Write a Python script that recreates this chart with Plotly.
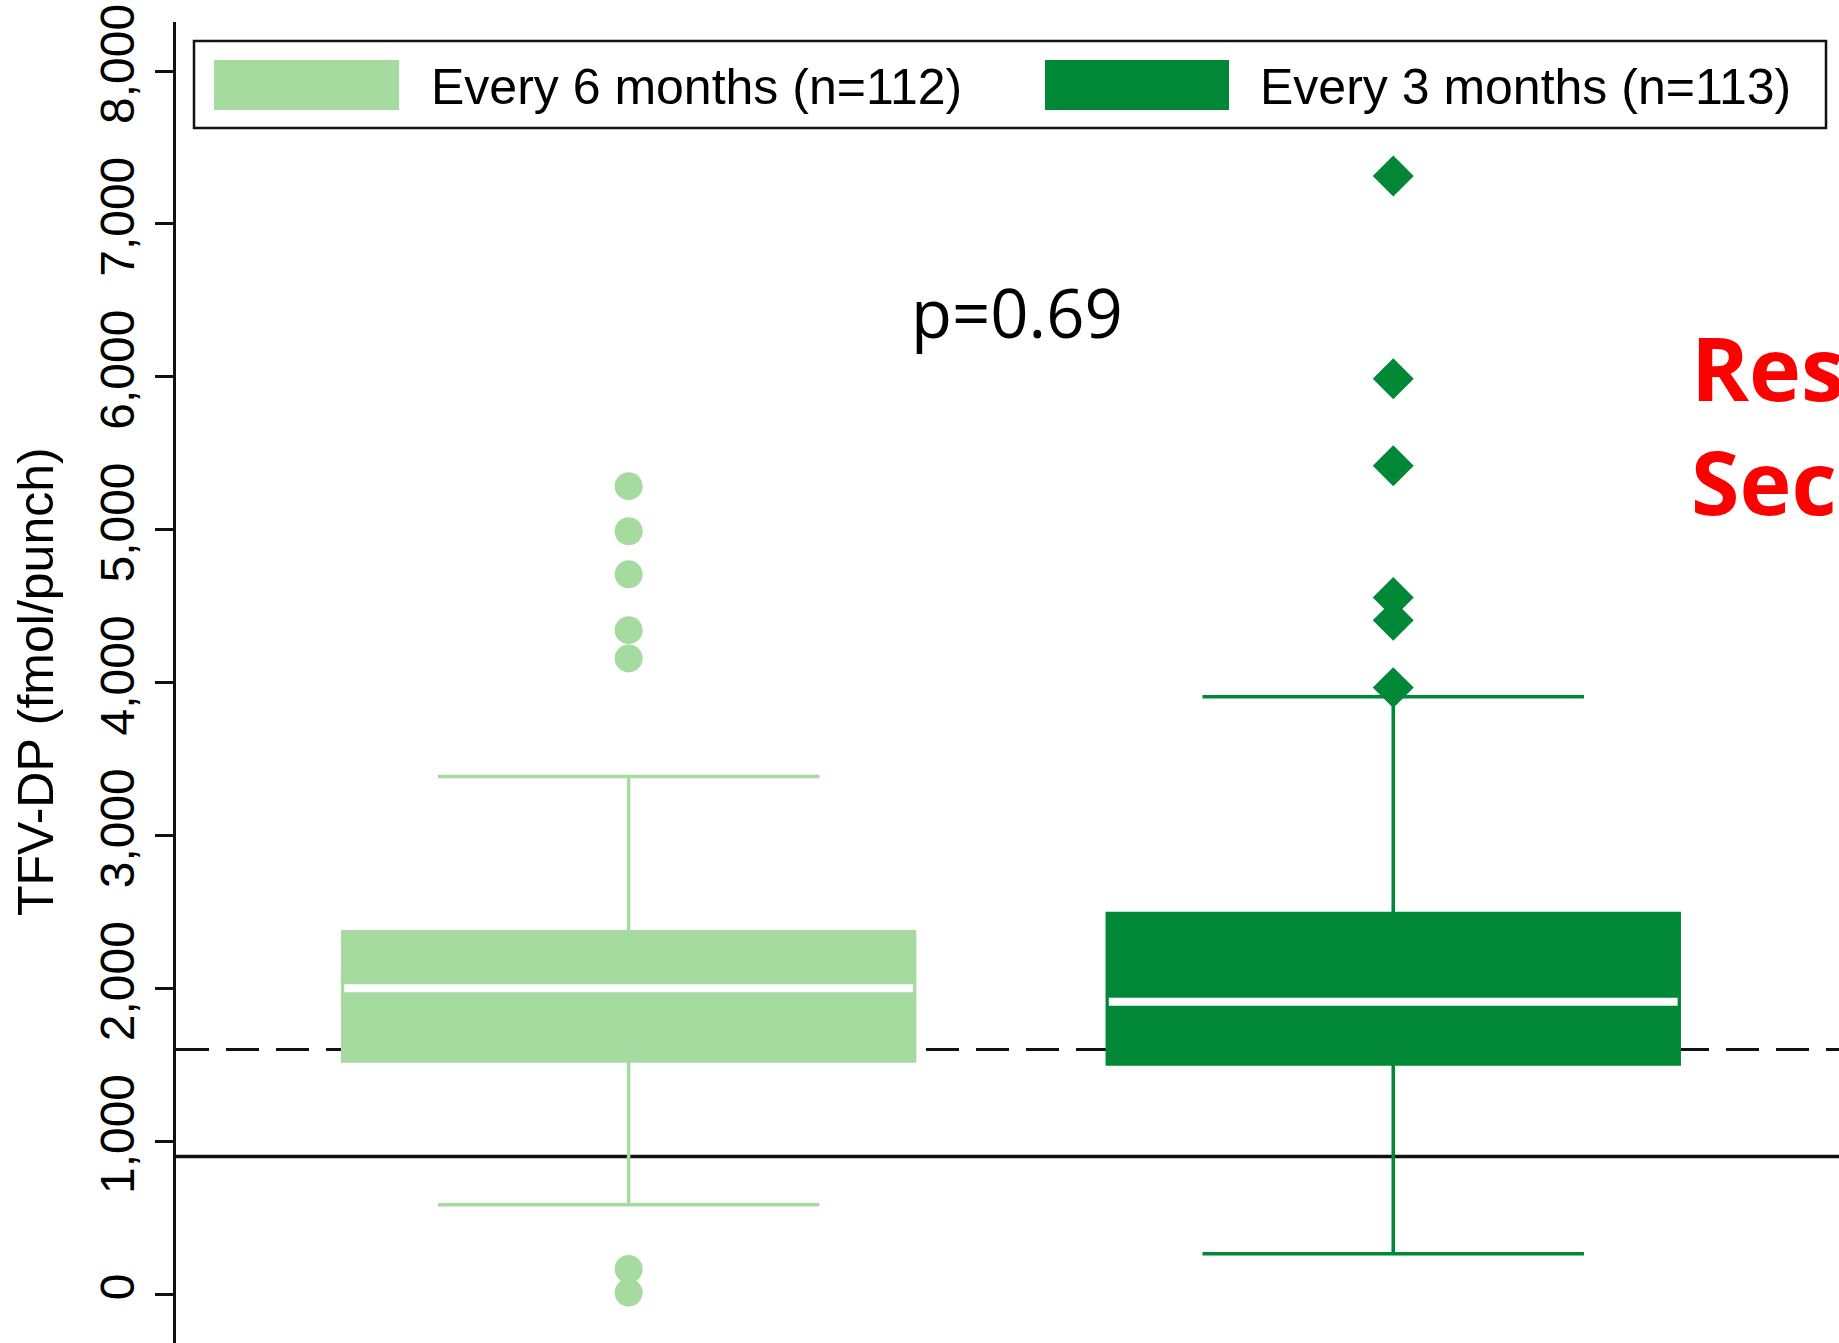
import plotly.graph_objects as go

# ---- data -------------------------------------------------------------
groups = ["Every 6 months (n=112)", "Every 3 months (n=113)"]
group_pos = [0, 1]
colors = ["#a6dba0", "#008837"]

q1 = [1525, 1505]
median = [2000, 1912]
q3 = [2370, 2490]
lower_whisker = [585, 263]
upper_whisker = [3386, 3908]

outliers_6m = [5285, 4990, 4708, 4343, 4158, 164, 10]
outliers_3m = [7314, 5987, 5418, 4557, 4407, 3967]
outlier_symbols = ["circle", "diamond"]

threshold_dashed = 1600
threshold_solid = 900

y_ticks = [0, 1000, 2000, 3000, 4000, 5000, 6000, 7000, 8000]
y_title = "TFV-DP (fmol/punch)"
p_text = "p=0.69"
side_title = ["Results", "Secondary"]

# ---- page geometry ----------------------------------------------------
W, H = 1839, 1343
ML, MT = 176, 22
PW, PH = W - ML, H - MT


def px_x(p):
    return (p - ML) / PW


def px_y(p):
    return (H - p) / PH


fig = go.Figure()

box_w = 0.748
for i, g in enumerate(groups):
    fig.add_trace(go.Box(
        x=[group_pos[i]], q1=[q1[i]], median=[median[i]], q3=[q3[i]],
        lowerfence=[lower_whisker[i]], upperfence=[upper_whisker[i]],
        name=g, width=box_w, whiskerwidth=0.667,
        fillcolor=colors[i], line=dict(color=colors[i], width=3.5),
        boxpoints=False, showlegend=False, hoverinfo="skip",
    ))

# white median bars across each box
for i in range(len(groups)):
    half = box_w / 2 - 0.002
    fig.add_trace(go.Scatter(
        x=[group_pos[i] - half, group_pos[i] + half],
        y=[median[i], median[i]], mode="lines",
        line=dict(color="white", width=8),
        showlegend=False, hoverinfo="skip",
    ))

for i, vals in enumerate([outliers_6m, outliers_3m]):
    fig.add_trace(go.Scatter(
        x=[group_pos[i]] * len(vals), y=vals, mode="markers",
        marker=dict(symbol=outlier_symbols[i], color=colors[i],
                    size=28 if i == 0 else 31.5, line=dict(width=0)),
        showlegend=False, hoverinfo="skip",
    ))

shapes = [
    dict(type="line", xref="paper", x0=0, x1=1, yref="y",
         y0=threshold_dashed, y1=threshold_dashed, layer="below",
         line=dict(color="#111", width=3, dash="33px,17px")),
    dict(type="line", xref="paper", x0=0, x1=1, yref="y",
         y0=threshold_solid, y1=threshold_solid, layer="below",
         line=dict(color="#111", width=3.5)),
    # legend frame
    dict(type="rect", xref="paper", yref="paper",
         x0=px_x(194), x1=px_x(1826), y0=px_y(128), y1=px_y(41),
         line=dict(color="#111", width=2.5), fillcolor="white", layer="above"),
]

annotations = []
swatches = [(214, 399), (1045, 1229)]
text_left = [429, 1258]
for i, g in enumerate(groups):
    x0, x1 = swatches[i]
    shapes.append(dict(type="rect", xref="paper", yref="paper",
                       x0=px_x(x0), x1=px_x(x1), y0=px_y(110), y1=px_y(60),
                       line=dict(width=0), fillcolor=colors[i], layer="above"))
    annotations.append(dict(
        text=g, xref="paper", yref="paper", x=px_x(text_left[i]), y=px_y(87),
        xanchor="left", yanchor="middle", showarrow=False,
        font=dict(family="Liberation Sans, Arial", size=50, color="black")))

# y-axis title, placed explicitly
annotations.append(dict(
    text=y_title, xref="paper", yref="paper", x=px_x(36), y=px_y(682),
    xanchor="center", yanchor="middle", textangle=-90, showarrow=False,
    font=dict(family="Liberation Sans, Arial", size=50, color="black")))

annotations.append(dict(
    text=p_text, xref="paper", yref="paper", x=px_x(1017), y=px_y(312),
    xanchor="center", yanchor="middle", showarrow=False,
    font=dict(family="Open Sans", size=67, color="black")))

annotations.append(dict(
    text="<br>".join(side_title), xref="paper", yref="paper",
    x=px_x(1689), y=px_y(305), xanchor="left", yanchor="top", align="left",
    showarrow=False,
    font=dict(family="Open Sans", size=88, color="#ff0000", weight="bold")))

fig.update_layout(
    width=W, height=H,
    margin=dict(l=ML, r=0, t=MT, b=0, pad=0),
    paper_bgcolor="white", plot_bgcolor="white",
    boxmode="overlay",
    shapes=shapes, annotations=annotations,
    xaxis=dict(visible=False, range=[-0.592, 1.583]),
    yaxis=dict(
        range=[-320, 8321], tickvals=y_ticks, tickformat=",",
        tickangle=-90, ticks="outside", ticklen=18, tickwidth=2.5,
        tickcolor="#111", showline=True, linecolor="#111", linewidth=3,
        showgrid=False, zeroline=False, ticklabelstandoff=2,
        tickfont=dict(family="Liberation Sans, Arial", size=48, color="black"),
    ),
)

fig.write_html("out.html")
